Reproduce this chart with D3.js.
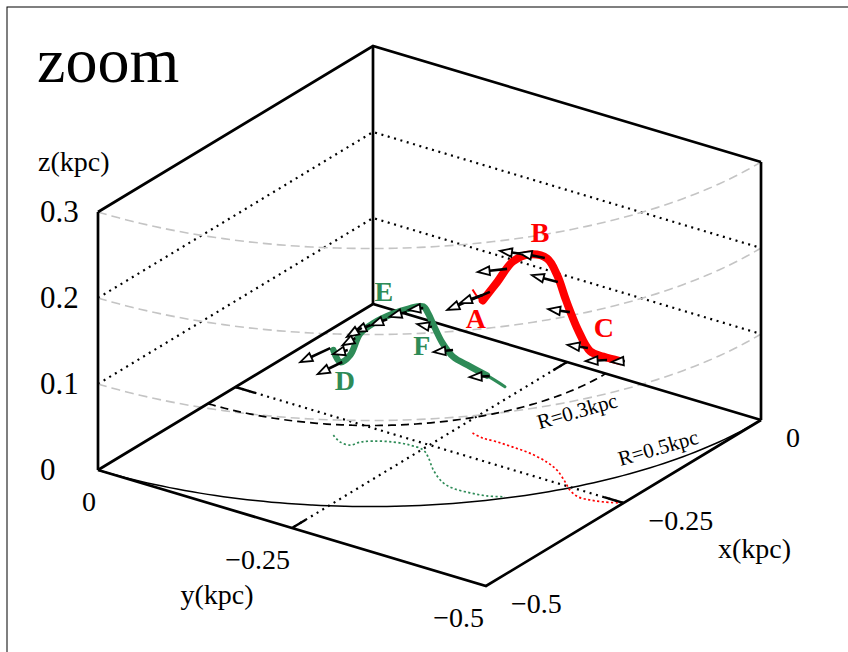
<!DOCTYPE html>
<html>
<head>
<meta charset="utf-8">
<script src="https://cdn.jsdelivr.net/npm/d3@7"></script>
<style>
  body { margin: 0; background: #fff; }
  svg { display: block; }
  text { font-family: "Liberation Serif", "DejaVu Serif", serif; }
</style>
</head>
<body>
<svg id="chart" width="848" height="652"></svg>
<script>
// ---- axes ----
const xTicks = [0, -0.25, -0.5];
const yTicks = [0, -0.25, -0.5];
const zTicks = [0, 0.1, 0.2, 0.3];
const zGrid = [0.1, 0.2];
const shellZ = [0.1, 0.2, 0.3];   // grey dashed R=0.5 rings
const outerR = 0.5;
const innerR = 0.3;

// ---- trajectory A-B-C (kpc) ----
const redX = [-0.200, -0.204, -0.203, -0.204, -0.206, -0.214, -0.224, -0.243, -0.256, -0.265, -0.264, -0.260, -0.252];
const redY = [-0.270, -0.286, -0.304, -0.325, -0.348, -0.376, -0.396, -0.420, -0.435, -0.452, -0.467, -0.481, -0.497];
const redZ = [0.167, 0.160, 0.186, 0.216, 0.231, 0.237, 0.227, 0.214, 0.209, 0.194, 0.173, 0.169, 0.165];

// ---- trajectory D-E-F (kpc) ----
const greenX = [-0.288, -0.298, -0.298, -0.286, -0.276, -0.266, -0.262, -0.264, -0.275, -0.298, -0.317, -0.323, -0.322, -0.318, -0.309];
const greenY = [-0.153, -0.169, -0.182, -0.186, -0.196, -0.214, -0.233, -0.252, -0.266, -0.289, -0.314, -0.332, -0.353, -0.372, -0.389];
const greenZ = [0.099, 0.093, 0.105, 0.126, 0.137, 0.149, 0.159, 0.167, 0.167, 0.169, 0.162, 0.153, 0.147, 0.140, 0.128];

// ---- velocity arrows: base point and in-plane displacement (kpc) ----
const arrowX  = [-0.191, -0.193, -0.195, -0.206, -0.211, -0.234, -0.253, -0.271, -0.263, -0.249,
                 -0.267, -0.273, -0.282, -0.281, -0.280, -0.296, -0.290, -0.288, -0.300, -0.302, -0.313, -0.314];
const arrowY  = [-0.286, -0.278, -0.311, -0.346, -0.371, -0.404, -0.433, -0.469, -0.488, -0.501,
                 -0.254, -0.237, -0.218, -0.196, -0.184, -0.187, -0.173, -0.149, -0.173, -0.290, -0.325, -0.373];
const arrowZ  = [0.165, 0.160, 0.200, 0.230, 0.235, 0.225, 0.205, 0.180, 0.168, 0.165,
                 0.167, 0.160, 0.150, 0.137, 0.130, 0.125, 0.105, 0.100, 0.095, 0.168, 0.155, 0.138];
const arrowDX = [-0.062, -0.030, -0.024, -0.009, -0.005, -0.002, -0.007, -0.006, -0.015, -0.010,
                 -0.013, -0.020, -0.022, -0.024, -0.027, -0.022, -0.017, -0.046, -0.039, -0.003, -0.016, -0.014];
const arrowDY = [0.011, 0.008, 0.021, 0.030, 0.029, 0.032, 0.023, 0.022, 0.017, 0.010,
                 0.010, 0.008, 0.005, 0.004, 0.000, 0.001, 0.007, 0.006, 0.004, 0.017, 0.014, 0.016];

// ---- point labels ----
const labelText  = ["A", "B", "C", "D", "E", "F"];
const labelX     = [-0.246, -0.190, -0.222, -0.329, -0.282, -0.333];
const labelY     = [-0.307, -0.350, -0.455, -0.197, -0.214, -0.299];
const labelZ     = [0.15, 0.24, 0.17, 0.08, 0.17, 0.15];
const labelGroup = ["red", "red", "red", "green", "green", "green"];

// ring labels
const ringText = ["R=0.3kpc", "R=0.5kpc"];
const ringLabelX = [-0.093, -0.118];
const ringLabelY = [-0.329, -0.451];

const RED = "#ff0000";
const GREEN = "#2e8b57";

// ---- projection of the box ----
const origin = [373, 304];          // (x=0, y=0, z=0)
const xEdge = [-275, 166];          // x: 0 -> -0.5
const yEdge = [388, 116];           // y: 0 -> -0.5
const ux = d3.scaleLinear().domain([0, -0.5]).range([0, 1]);
const uy = d3.scaleLinear().domain([0, -0.5]).range([0, 1]);
const uz = d3.scaleLinear().domain([0, 0.3]).range([0, -258]);

function proj(x, y, z) {
  const a = ux(x), b = uy(y);
  return [origin[0] + a * xEdge[0] + b * yEdge[0],
          origin[1] + a * xEdge[1] + b * yEdge[1] + uz(z)];
}

const svg = d3.select("#chart");
const line = d3.line();
const smooth = d3.line().curve(d3.curveCatmullRom.alpha(0.5));

// frame
svg.append("rect").attr("x", 7).attr("y", 7).attr("width", 1000).attr("height", 1000)
  .attr("fill", "none").attr("stroke", "#000").attr("stroke-width", 1);

// title
svg.append("text").attr("x", 37).attr("y", 82).attr("font-size", 64).text("zoom");

const g = svg.append("g");

// ---- floor grid (dotted) with short tics ----
const tic = 0.025;
const dotted = { "stroke": "#000", "stroke-width": 2.2, "stroke-dasharray": "2,4.6", "fill": "none" };
function path(pts, attrs) {
  const p = g.append("path").attr("d", line(pts));
  Object.entries(attrs).forEach(([k, v]) => p.attr(k, v));
  return p;
}
xTicks.filter(v => v !== 0 && v !== -0.5).forEach(v => {
  path([proj(v, 0, 0), proj(v, -0.5, 0)], dotted);
  path([proj(v, 0, 0), proj(v, -tic, 0)], { stroke: "#000", "stroke-width": 2.4 });
  path([proj(v, -0.5, 0), proj(v, -0.5 + tic, 0)], { stroke: "#000", "stroke-width": 2.4 });
});
yTicks.filter(v => v !== 0 && v !== -0.5).forEach(v => {
  path([proj(0, v, 0), proj(-0.5, v, 0)], dotted);
  path([proj(0, v, 0), proj(-tic, v, 0)], { stroke: "#000", "stroke-width": 2.4 });
  path([proj(-0.5, v, 0), proj(-0.5 + tic, v, 0)], { stroke: "#000", "stroke-width": 2.4 });
});
// back walls
zGrid.forEach(z => {
  path([proj(-0.5, 0, z), proj(0, 0, z), proj(0, -0.5, z)], dotted);
});

// ---- rings ----
const angles = d3.range(0, 91, 1).map(d => d * Math.PI / 180);
function ring(r, z) { return angles.map(t => proj(-r * Math.cos(t), -r * Math.sin(t), z)); }
shellZ.forEach(z => {
  g.append("path").attr("d", smooth(ring(outerR, z))).attr("fill", "none")
    .attr("stroke", "#c4c4c4").attr("stroke-width", 1.6).attr("stroke-dasharray", "9,5");
});
g.append("path").attr("d", smooth(ring(innerR, 0))).attr("fill", "none")
  .attr("stroke", "#000").attr("stroke-width", 1.7).attr("stroke-dasharray", "8,5");
g.append("path").attr("d", smooth(ring(outerR, 0))).attr("fill", "none")
  .attr("stroke", "#000").attr("stroke-width", 1.5);

// ---- box edges ----
const edge = { stroke: "#000", "stroke-width": 2.7, fill: "none", "stroke-linejoin": "miter" };
path([proj(-0.5, 0, 0), proj(-0.5, -0.5, 0), proj(0, -0.5, 0)], edge);
path([proj(-0.5, 0, 0), proj(0, 0, 0), proj(0, -0.5, 0)], edge);
path([proj(-0.5, 0, 0), proj(-0.5, 0, 0.3)], edge);
path([proj(0, 0, 0), proj(0, 0, 0.3)], edge);
path([proj(0, -0.5, 0), proj(0, -0.5, 0.3)], edge);
path([proj(-0.5, 0, 0.3), proj(0, 0, 0.3), proj(0, -0.5, 0.3)], edge);

// ---- floor projections of the trajectories ----
function track(xs, ys, zs, flat) { return xs.map((x, i) => proj(x, ys[i], flat ? 0 : zs[i])); }
g.append("path").attr("d", smooth(track(greenX, greenY, greenZ, true))).attr("fill", "none")
  .attr("stroke", GREEN).attr("stroke-width", 1.7).attr("stroke-dasharray", "2.2,2.4");
g.append("path").attr("d", smooth(track(redX, redY, redZ, true))).attr("fill", "none")
  .attr("stroke", RED).attr("stroke-width", 1.7).attr("stroke-dasharray", "2.2,2.4");

// ---- 3D trajectories ----
const green3 = track(greenX, greenY, greenZ, false);
g.append("path").attr("d", smooth(green3)).attr("fill", "none")
  .attr("stroke", GREEN).attr("stroke-width", 3.2).attr("stroke-linecap", "round");
g.append("path").attr("d", smooth(green3.slice(0, 14))).attr("fill", "none")
  .attr("stroke", GREEN).attr("stroke-width", 6.5).attr("stroke-linecap", "round").attr("stroke-linejoin", "round");

const red3 = track(redX, redY, redZ, false);
g.append("path").attr("d", smooth(red3.slice(0, 3))).attr("fill", "none")
  .attr("stroke", RED).attr("stroke-width", 2);
g.append("path").attr("d", smooth(red3.slice(1))).attr("fill", "none")
  .attr("stroke", RED).attr("stroke-width", 8).attr("stroke-linecap", "round").attr("stroke-linejoin", "round");

// ---- velocity arrows ----
arrowX.forEach((x, i) => {
  const p = proj(x, arrowY[i], arrowZ[i]);
  const q = proj(x + arrowDX[i], arrowY[i] + arrowDY[i], arrowZ[i]);
  const dx = q[0] - p[0], dy = q[1] - p[1];
  const len = Math.hypot(dx, dy), u = [dx / len, dy / len], n = [-u[1], u[0]];
  const L = 12, W = 4.3;
  const b = [q[0] - u[0] * L, q[1] - u[1] * L];
  g.append("path").attr("d", line([p, b])).attr("stroke", "#000").attr("stroke-width", 2.6);
  g.append("path")
    .attr("d", line([q, [b[0] + n[0] * W, b[1] + n[1] * W], [b[0] - n[0] * W, b[1] - n[1] * W]]) + "Z")
    .attr("fill", "#fff").attr("stroke", "#000").attr("stroke-width", 1.8).attr("stroke-linejoin", "miter");
});

// ---- point labels ----
labelText.forEach((t, i) => {
  const p = proj(labelX[i], labelY[i], labelZ[i]);
  g.append("text").attr("x", p[0]).attr("y", p[1]).attr("text-anchor", "middle")
    .attr("font-size", 28).attr("font-weight", "bold")
    .attr("fill", labelGroup[i] === "red" ? RED : GREEN).text(t);
});

// ---- ring labels ----
ringText.forEach((t, i) => {
  const p = proj(ringLabelX[i], ringLabelY[i], 0);
  g.append("text").attr("transform", `translate(${p[0]},${p[1]}) rotate(-16)`)
    .attr("text-anchor", "middle").attr("dominant-baseline", "central")
    .attr("font-size", 21).text(t);
});

// ---- tick labels ----
const fmt = v => (v === 0 ? "0" : String(v).replace("-", "\u2212"));
zTicks.forEach(v => {
  const p = proj(-0.5, 0, v);
  svg.append("text").attr("x", p[0] - 58).attr("y", p[1] + 10).attr("text-anchor", "start")
    .attr("font-size", 31).text(fmt(v));
});
yTicks.forEach(v => {
  const p = proj(-0.5, v, 0);
  svg.append("text").attr("x", p[0] - 2).attr("y", p[1] + 41).attr("text-anchor", "end")
    .attr("font-size", 28).text(fmt(v));
});
xTicks.forEach(v => {
  const p = proj(v, -0.5, 0);
  svg.append("text").attr("x", p[0] + 25).attr("y", p[1] + 27).attr("text-anchor", "start")
    .attr("font-size", 28).text(fmt(v));
});

// ---- axis titles ----
const zTop = proj(-0.5, 0, 0.3);
svg.append("text").attr("x", zTop[0] - 60).attr("y", zTop[1] - 41).attr("font-size", 28).text("z(kpc)");
const yMid = proj(-0.5, -0.25, 0);
svg.append("text").attr("x", yMid[0] - 75).attr("y", yMid[1] + 76).attr("text-anchor", "middle")
  .attr("font-size", 28).text("y(kpc)");
const xMid = proj(-0.25, -0.5, 0);
svg.append("text").attr("x", xMid[0] + 131).attr("y", xMid[1] + 55).attr("text-anchor", "middle")
  .attr("font-size", 28).text("x(kpc)");
</script>
</body>
</html>
